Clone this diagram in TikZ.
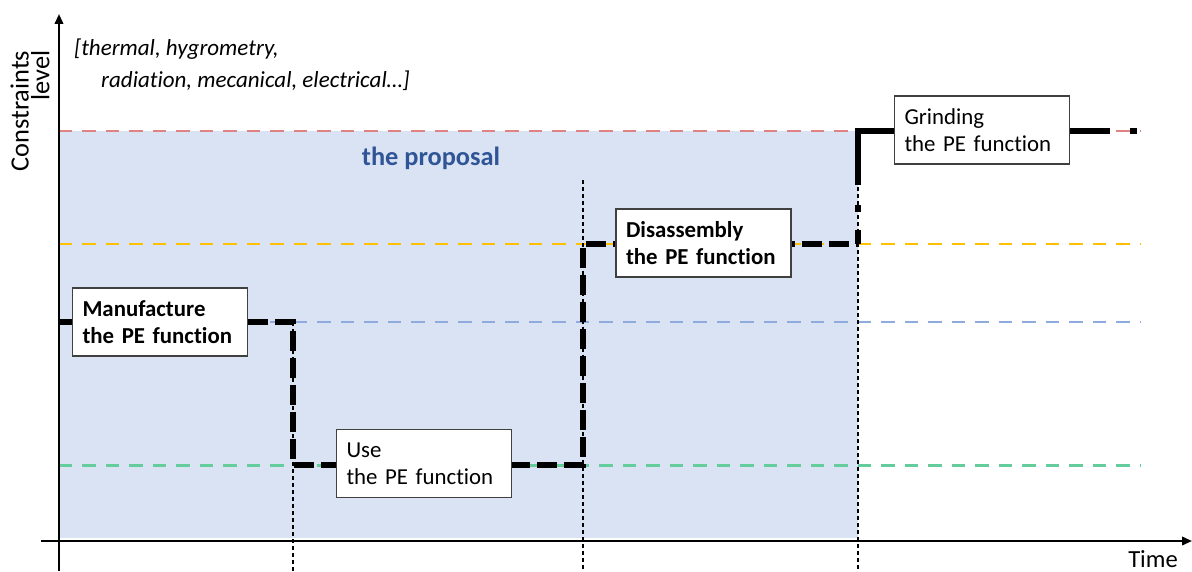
\documentclass[tikz,border=0pt]{standalone}
\usepackage{fontspec}
\setmainfont{Carlito}[Ligatures=NoCommon]
\usetikzlibrary{arrows.meta}
\definecolor{fillblue}{HTML}{DAE3F3}
\definecolor{lred}{RGB}{222,130,130}
\definecolor{lorange}{HTML}{FFC000}
\definecolor{lblue}{HTML}{8FAADC}
\definecolor{lgreen}{RGB}{100,205,155}
\definecolor{propblue}{HTML}{2F5597}
\definecolor{boxline}{HTML}{404040}
\begin{document}
\begin{tikzpicture}[x=0.02cm,y=-0.02cm,
  levelline/.style={line width=1.7pt, dash pattern=on 0.27cm off 0.2cm},
  guide/.style={line width=0.6pt, dash pattern=on 0.08cm off 0.06cm},
  life/.style={line width=3.4pt, line join=miter, dash pattern=on 0.4cm off 0.14cm},
  lastlife/.style={line width=3.4pt, line join=miter, dash pattern=on 0.28cm off 0.36cm on 0.14cm off 0.4cm on 6.12cm off 0.4cm on 0.14cm off 2cm},
  stagebox/.style={draw=boxline, line width=0.7pt, fill=white, text width=3.1cm, inner xsep=0.2cm, minimum height=1.36cm, align=left, font=\fontsize{13}{15.6}\selectfont},
  boldbox/.style={stagebox, font=\bfseries\fontsize{13}{15.6}\selectfont},
  axisline/.style={line width=1.2pt, -{Triangle[length=0.2cm,width=0.17cm]}},
  note/.style={anchor=base west, font=\itshape\fontsize{13.1}{15.9}\selectfont}]
\useasboundingbox (0,0) rectangle (1192,571);
% proposal area
\fill[fillblue] (59,131) rectangle (858,538);
\node[font=\bfseries\fontsize{15}{18}\selectfont, text=propblue] (prop) at (431,158) {the proposal};
% level lines
\draw[levelline, lred] (59,131) -- (1140,131);
\draw[levelline, lorange] (59,244) -- (1140,244);
\draw[levelline, lblue] (59,322) -- (1140,322);
\draw[levelline, lgreen] (59,465) -- (1140,465);
% guides
\draw[guide] (293,322) -- (293,571);
\draw[guide] (583,180) -- (583,571);
\draw[guide] (858,180) -- (858,571);
% life-cycle path
\coordinate (p0) at (59,322);
\coordinate (p1) at (293,322);
\coordinate (p2) at (293,465);
\coordinate (p3) at (583,465);
\coordinate (p4) at (583,244);
\coordinate (p5) at (858,244);
\coordinate (p6) at (858,131);
\coordinate (p7) at (1137,131);
\draw[life] (p0) -- (p1) -- (p2) -- (p3) -- (p4) -- (p5);
\draw[lastlife] (p5) -- (p6) -- (p7);
% stage boxes
\node[boldbox] (manu) at (160,322) {Manufacture\\the PE function};
\node[stagebox] (use) at (424,463.5) {Use\\the PE function};
\node[boldbox] (disa) at (703.5,243) {Disassembly\\the PE function};
\node[stagebox] (grind) at (982,130) {Grinding\\the PE function};
% axes
\coordinate (o1) at (59,571);
\coordinate (ytop) at (59,14);
\coordinate (xl) at (41,541);
\coordinate (xr) at (1192,541);
\draw[axisline] (o1) -- (ytop);
\draw[axisline] (xl) -- (xr);
\node[rotate=90, align=right, font=\fontsize{15}{11.8}\selectfont] (ylab) at (30,111) {Constraints\\level};
\node[font=\fontsize{14}{16}\selectfont] (xlab) at (1153,559) {Time};
\node[note] (c1) at (68,56) {[thermal, hygrometry,};
\node[note] (c2) at (95,88) {radiation, mecanical, electrical…]};
\end{tikzpicture}
\end{document}
